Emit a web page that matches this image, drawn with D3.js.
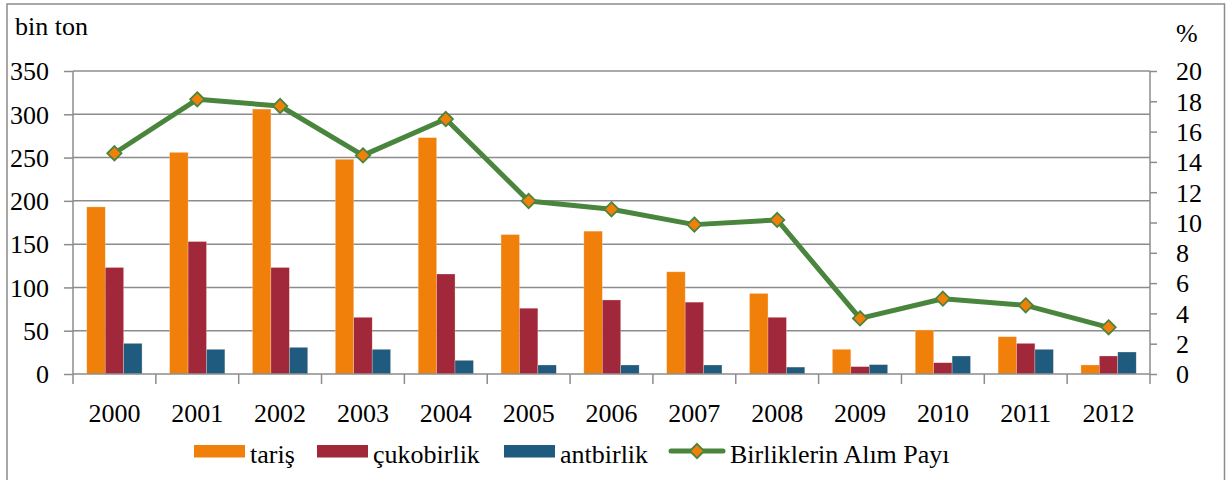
<!DOCTYPE html>
<html><head><meta charset="utf-8">
<script src="https://cdn.jsdelivr.net/npm/d3@7"></script>
<style>body{margin:0;background:#fff}svg{display:block}svg text{font-family:'Liberation Serif','Tinos','Times New Roman',Times,'DejaVu Serif',serif;fill:#000}</style>
</head><body><svg id="c" width="1226" height="480"></svg>
<script>
const years = ["2000","2001","2002","2003","2004","2005","2006","2007","2008","2009","2010","2011","2012"];
const taris = [193,256,306,248,273,161,165,118,93,28.5,50.8,43,10.4];
const cukobirlik = [123,153,123,65.5,115.5,76,85.5,83,65.5,8.5,13,35.4,20.8];
const antbirlik = [35.4,28.5,30.8,28.5,15.8,10.4,10.4,10.4,8,10.8,20.8,28.5,25.4];
const pay = [14.57,18.13,17.69,14.43,16.83,11.42,10.87,9.86,10.17,3.67,4.97,4.53,3.08];
const leftTicks = [0,50,100,150,200,250,300,350];
const rightTicks = [0,2,4,6,8,10,12,14,16,18,20];
const seriesNames = ["tariş","çukobirlik","antbirlik","Birliklerin Alım Payı"];
const colors = {taris:"#F0800A", cuko:"#A0283A", ant:"#1F5B7E", line:"#4A853D", grid:"#8C8C8C"};

const svg = d3.select("#c");
const L=73, R=1150, T=71, B=374;
svg.append("rect").attr("x",7).attr("y",4).attr("width",1217.5).attr("height",490)
  .attr("fill","none").attr("stroke","#8C8C8C").attr("stroke-width",1.5);

const x = d3.scaleBand().domain(years).range([L,R]).paddingInner(0).paddingOuter(0);
const yL = d3.scaleLinear().domain([0,350]).range([B,T]);
const yR = d3.scaleLinear().domain([0,20]).range([B,T]);
const bw = x.bandwidth()/4.5;
const gOff = (x.bandwidth()-3*bw)/2;

svg.append("g").selectAll("line").data(leftTicks.filter(d=>d>0)).join("line")
  .attr("x1",L).attr("x2",R).attr("y1",d=>yL(d)).attr("y2",d=>yL(d))
  .attr("stroke",colors.grid).attr("stroke-width",1.5);

const series = [[taris,colors.taris],[cukobirlik,colors.cuko],[antbirlik,colors.ant]];
series.forEach(([vals,col],si)=>{
  svg.append("g").selectAll("rect").data(years).join("rect")
    .attr("x",(d)=>x(d)+gOff+si*bw).attr("width",bw)
    .attr("y",(d,i)=>yL(vals[i])).attr("height",(d,i)=>B-yL(vals[i]))
    .attr("fill",col).attr("stroke","#fbe3d0").attr("stroke-width",0.5).attr("stroke-opacity",0.6);
});

function styleAxis(g){
  g.select(".domain").attr("stroke",colors.grid).attr("stroke-width",1.5);
  g.selectAll(".tick line").attr("stroke",colors.grid).attr("stroke-width",1.5);
  g.selectAll("text").attr("font-size",26).attr("fill","#000").attr("font-family",null);
  g.attr("font-family",null);
}
const axL = svg.append("g").attr("transform",`translate(${L},0)`)
  .call(d3.axisLeft(yL).tickValues(leftTicks).tickSize(9).tickPadding(15));
styleAxis(axL);
axL.select(".domain").attr("d",`M0,${T}V${B}`);
axL.selectAll("text").attr("dy","0.34em");

const axR = svg.append("g").attr("transform",`translate(${R},0)`)
  .call(d3.axisRight(yR).tickValues(rightTicks).tickSize(7).tickPadding(19));
styleAxis(axR);
axR.select(".domain").attr("d",`M0,${T}V${B}`);
axR.selectAll("text").attr("dy","0.34em");

const axB = svg.append("g").attr("transform",`translate(0,${B})`)
  .call(d3.axisBottom(x).tickSize(0).tickPadding(30));
styleAxis(axB);
axB.select(".domain").attr("d",`M${L},0H${R}`);
const bounds = years.map(d=>x(d)).concat([R]);
svg.append("g").selectAll("line").data(bounds).join("line")
  .attr("x1",d=>d).attr("x2",d=>d).attr("y1",B).attr("y2",B+10)
  .attr("stroke",colors.grid).attr("stroke-width",1.5);

const cx = d=>x(d)+x.bandwidth()/2;
const line = d3.line().x((d,i)=>cx(years[i])).y(d=>yR(d));
svg.append("path").datum(pay).attr("d",line).attr("fill","none")
  .attr("stroke",colors.line).attr("stroke-width",5).attr("stroke-linejoin","round");
const diamond = d3.symbol().type(d3.symbolDiamond2).size(130);
svg.append("g").selectAll("path").data(pay).join("path")
  .attr("d",diamond).attr("transform",(d,i)=>`translate(${cx(years[i])},${yR(d)})`)
  .attr("fill",colors.taris).attr("stroke",colors.line).attr("stroke-width",1.8);

svg.append("text").attr("x",15).attr("y",35).attr("font-size",26).text("bin ton");
svg.append("text").attr("x",1176).attr("y",42).attr("font-size",26).text("%");

const lg = svg.append("g");
const legendItems = [
  {name:seriesNames[0],col:colors.taris,x:194,tx:250},
  {name:seriesNames[1],col:colors.cuko,x:317,tx:373},
  {name:seriesNames[2],col:colors.ant,x:504,tx:560},
];
legendItems.forEach(it=>{
  lg.append("rect").attr("x",it.x).attr("y",445).attr("width",51).attr("height",12.5).attr("fill",it.col);
  lg.append("text").attr("x",it.tx).attr("y",463).attr("font-size",26).text(it.name);
});
lg.append("line").attr("x1",671).attr("x2",723).attr("y1",451).attr("y2",451)
  .attr("stroke",colors.line).attr("stroke-width",5).attr("stroke-linecap","round");
lg.append("path").attr("d",diamond).attr("transform","translate(697,451)")
  .attr("fill",colors.taris).attr("stroke",colors.line).attr("stroke-width",1.8);
lg.append("text").attr("x",730).attr("y",463).attr("font-size",26).text(seriesNames[3]);
</script></body></html>
